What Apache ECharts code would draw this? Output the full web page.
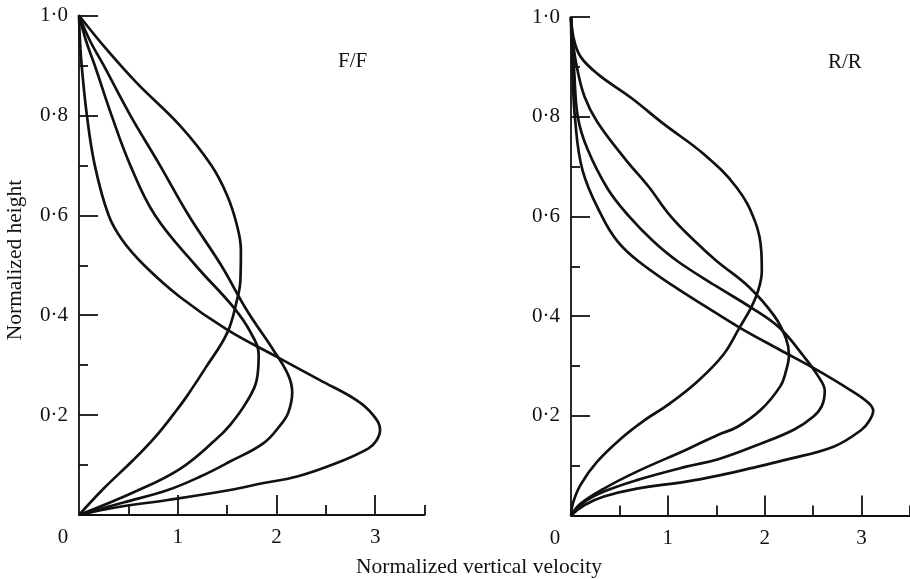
<!DOCTYPE html>
<html>
<head>
<meta charset="utf-8">
<title>Normalized vertical velocity profiles</title>
<script src="https://cdn.jsdelivr.net/npm/echarts@6/dist/echarts.min.js"></script>
<style>
  html, body { margin: 0; padding: 0; background: #fff; }
  #chart { width: 910px; height: 579px; }
</style>
</head>
<body>
<div id="chart"></div>
<script>
// profiles as [normalized vertical velocity, normalized height]
// F/F panel
const ffCurve1 = [[0,1],[0.28,0.932],[0.585,0.865],[1.03,0.778],[1.34,0.7],[1.5,0.64],[1.6,0.58],[1.64,0.53],[1.635,0.47],[1.6,0.43],[1.5,0.364],[1.29,0.297],[1.09,0.237],[0.97,0.205],[0.78,0.158],[0.55,0.11],[0.25,0.053],[0,0]];
const ffCurve2 = [[0,1],[0.07,0.95],[0.16,0.9],[0.33,0.8],[0.52,0.7],[0.77,0.6],[1.18,0.5],[1.56,0.417],[1.74,0.365],[1.82,0.32],[1.8,0.27],[1.7,0.227],[1.53,0.18],[1.38,0.15],[1.02,0.092],[0.56,0.046],[0,0]];
const ffCurve3 = [[0,1],[0.11,0.95],[0.25,0.9],[0.52,0.8],[0.82,0.7],[1.11,0.6],[1.44,0.5],[1.7,0.41],[1.97,0.33],[2.12,0.28],[2.16,0.245],[2.12,0.205],[2.04,0.18],[1.87,0.144],[1.53,0.107],[1.23,0.077],[0.9,0.05],[0.45,0.025],[0,0]];
const ffCurve4 = [[0,1],[0.01,0.95],[0.027,0.9],[0.08,0.8],[0.16,0.7],[0.3,0.6],[0.44,0.55],[0.66,0.5],[1.02,0.437],[1.5,0.371],[2.0,0.317],[2.44,0.27],[2.81,0.23],[2.98,0.2],[3.05,0.17],[3.01,0.148],[2.93,0.133],[2.61,0.104],[2.21,0.077],[1.87,0.064],[1.53,0.05],[0.9,0.03],[0.4,0.016],[0,0]];
// R/R panel
const rrCurve1 = [[0,1],[0.03,0.955],[0.1,0.92],[0.28,0.885],[0.62,0.838],[0.96,0.785],[1.37,0.725],[1.71,0.658],[1.9,0.59],[1.965,0.53],[1.97,0.49],[1.93,0.45],[1.86,0.417],[1.74,0.377],[1.57,0.322],[1.3,0.268],[1.0,0.222],[0.75,0.19],[0.52,0.155],[0.27,0.108],[0.1,0.062],[0.02,0.025],[0,0]];
const rrCurve2 = [[0,1],[0.02,0.95],[0.06,0.9],[0.14,0.84],[0.27,0.79],[0.56,0.715],[0.8,0.66],[1.03,0.6],[1.28,0.55],[1.5,0.511],[1.84,0.458],[2.1,0.4],[2.22,0.355],[2.25,0.322],[2.22,0.29],[2.16,0.259],[1.96,0.212],[1.72,0.178],[1.52,0.162],[1.19,0.132],[0.68,0.088],[0.34,0.054],[0.1,0.024],[0,0]];
const rrCurve3 = [[0,1],[0.01,0.95],[0.03,0.9],[0.07,0.8],[0.17,0.735],[0.38,0.655],[0.6,0.6],[0.85,0.55],[1.1,0.51],[1.5,0.46],[1.86,0.417],[2.15,0.377],[2.4,0.32],[2.55,0.28],[2.62,0.25],[2.59,0.22],[2.5,0.198],[2.3,0.172],[1.93,0.142],[1.52,0.113],[1.19,0.098],[0.68,0.071],[0.34,0.048],[0.12,0.025],[0,0]];
const rrCurve4 = [[0,1],[0.005,0.95],[0.015,0.9],[0.04,0.8],[0.12,0.692],[0.32,0.6],[0.48,0.55],[0.69,0.511],[1.06,0.46],[1.4,0.418],[1.74,0.377],[2.15,0.333],[2.52,0.294],[2.88,0.252],[3.07,0.226],[3.12,0.21],[3.08,0.19],[3.0,0.172],[2.71,0.138],[2.2,0.111],[1.86,0.095],[1.52,0.08],[1.19,0.068],[0.68,0.054],[0.34,0.038],[0.14,0.021],[0,0]];

const xTickLabels = [0, 1, 2, 3];
const xMajorTicks = [1, 2, 3];
const xMinorTicks = [0.5, 1.5, 2.5, 3.5];
const panelNames = ['F/F', 'R/R'];

const font = 'Liberation Serif';
const ink = '#111';

const chart = echarts.init(document.getElementById('chart'));

// main x axis: line, long ticks, labels
const xMain = (gridIndex) => ({
  type: 'value', gridIndex: gridIndex, position: 'bottom',
  min: 0, max: 3.5,
  axisLine: { lineStyle: { color: ink, width: 1.8 } },
  axisTick: { inside: true, length: 20, customValues: xMajorTicks, lineStyle: { color: ink, width: 1.8 } },
  axisLabel: {
    customValues: xTickLabels, margin: 12, color: ink, fontFamily: font, fontSize: 21,
    formatter: v => v === 0 ? '{o|0}' : String(v),
    rich: { o: { padding: [0, 32, 0, 0], fontFamily: font, fontSize: 21, color: ink } }
  },
  splitLine: { show: false }
});
// second x axis on same place, only the short half-unit ticks
const xMinor = (gridIndex) => ({
  type: 'value', gridIndex: gridIndex, position: 'bottom',
  min: 0, max: 3.5,
  axisLine: { show: false },
  axisTick: { inside: true, length: 10, customValues: xMinorTicks, lineStyle: { color: ink, width: 1.8 } },
  axisLabel: { show: false },
  splitLine: { show: false }
});
const yAxisOf = (gridIndex) => ({
  type: 'value', gridIndex: gridIndex,
  min: 0, max: 1, interval: 0.2,
  axisLine: { show: true, lineStyle: { color: ink, width: 1.8 } },
  axisTick: { show: true, inside: true, length: 19, lineStyle: { color: ink, width: 1.8 } },
  minorTick: { show: true, splitNumber: 2, length: 9, lineStyle: { color: ink, width: 1.8 } },
  axisLabel: {
    margin: 11, color: ink, fontFamily: font, fontSize: 21,
    formatter: v => v === 0 ? '' : v.toFixed(1).replace('.', '\u00b7')
  },
  splitLine: { show: false }
});

const curve = (data, xi, yi) => ({
  type: 'line', data: data, xAxisIndex: xi, yAxisIndex: yi,
  smooth: 0.4, symbol: 'none', showSymbol: false,
  lineStyle: { color: ink, width: 2.7 }
});

chart.setOption({
  animation: false,
  backgroundColor: '#fff',
  grid: [
    { left: 79, top: 15.5, width: 345.5, height: 499.5 },
    { left: 571, top: 17, width: 343, height: 498.5 }
  ],
  xAxis: [xMain(0), xMinor(0), xMain(1), xMinor(1)],
  yAxis: [yAxisOf(0), yAxisOf(1)],
  series: [
    curve(ffCurve1, 0, 0), curve(ffCurve2, 0, 0), curve(ffCurve3, 0, 0), curve(ffCurve4, 0, 0),
    curve(rrCurve1, 2, 1), curve(rrCurve2, 2, 1), curve(rrCurve3, 2, 1), curve(rrCurve4, 2, 1)
  ],
  graphic: [
    { type: 'text', left: 338, top: 51, style: { text: panelNames[0], fill: ink, font: '21px "Liberation Serif"' } },
    { type: 'text', left: 828, top: 52, style: { text: panelNames[1], fill: ink, font: '21px "Liberation Serif"' } },
    { type: 'text', x: 479, y: 567, style: { text: 'Normalized vertical velocity', fill: ink, font: '21.5px "Liberation Serif"', align: 'center', verticalAlign: 'middle' } },
    { type: 'text', x: 15, y: 260, rotation: Math.PI / 2, style: { text: 'Normalized height', fill: ink, font: '21.5px "Liberation Serif"', align: 'center', verticalAlign: 'middle' } }
  ]
});
</script>
</body>
</html>
